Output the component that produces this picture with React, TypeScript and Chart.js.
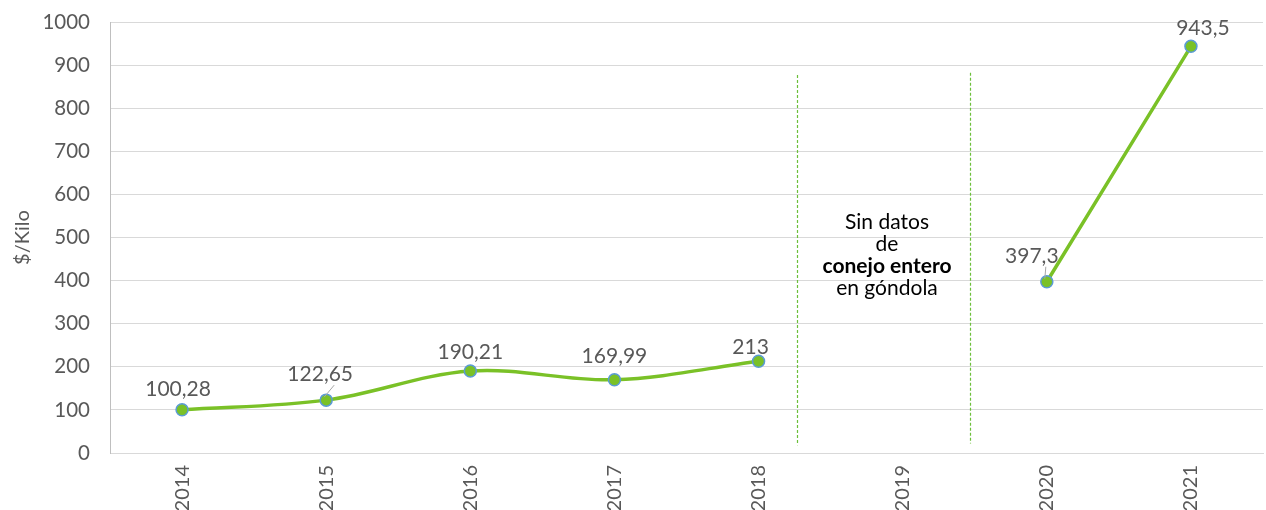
import React, { useEffect, useRef } from "react";
import { Chart, registerables } from "chart.js";

Chart.register(...registerables);

const categories = ["2014", "2015", "2016", "2017", "2018", "2019", "2020", "2021"];
const prices: (number | null)[] = [100.28, 122.65, 190.21, 169.99, 213, null, 397.3, 943.5];
const valueLabels = ["100,28", "122,65", "190,21", "169,99", "213", "", "397,3", "943,5"];
const yTicks = [0, 100, 200, 300, 400, 500, 600, 700, 800, 900, 1000];
const noteLines = ["Sin datos", "de", "conejo entero", "en góndola"];
const noteBold = [false, false, true, false];

const FONT = "Lato, 'Open Sans', sans-serif";
const GREY = "#595959";

// label offsets relative to each point (px)
const labelOffsets: [number, number][] = [
  [-4, -21], [-6, -26], [0, -19], [0, -23], [-8, -14], [0, 0], [-15, -26], [12, -18],
];
const leaderLines = [1, 6];

const overlayPlugin = {
  id: "overlay",
  afterDatasetsDraw(chart: any) {
    const ctx = chart.ctx;
    const meta = chart.getDatasetMeta(0);
    const x = chart.scales.x;
    const y = chart.scales.y;
    const step = x.getPixelForValue(1) - x.getPixelForValue(0);
    ctx.save();
    // dashed separators
    ctx.strokeStyle = "#6CBF3A";
    ctx.lineWidth = 1.2;
    ctx.setLineDash([3, 2]);
    const lx1 = Math.round(x.getPixelForValue(4) + 0.27 * step) + 0.5;
    const lx2 = Math.round(x.getPixelForValue(5) + 0.47 * step) + 0.5;
    ctx.beginPath();
    ctx.moveTo(lx1, y.getPixelForValue(877));
    ctx.lineTo(lx1, y.getPixelForValue(18));
    ctx.moveTo(lx2, y.getPixelForValue(882));
    ctx.lineTo(lx2, y.getPixelForValue(22));
    ctx.stroke();
    ctx.setLineDash([]);
    // note
    const cx = (lx1 + lx2) / 2 + 3;
    ctx.fillStyle = "#000";
    ctx.textAlign = "center";
    ctx.textBaseline = "middle";
    noteLines.forEach((t, i) => {
      ctx.font = `${noteBold[i] ? "bold " : ""}21px ${FONT}`;
      ctx.fillText(t, cx, 222 + i * 22);
    });
    // leader lines
    ctx.strokeStyle = "#A6A6A6";
    ctx.lineWidth = 1;
    leaderLines.forEach((i) => {
      const p = meta.data[i];
      const [dx, dy] = labelOffsets[i];
      ctx.beginPath();
      ctx.moveTo(p.x + dx + 14, p.y + dy + 11);
      ctx.lineTo(p.x - 2, p.y - 3);
      ctx.stroke();
    });
    // value labels
    ctx.fillStyle = GREY;
    ctx.font = `21px ${FONT}`;
    valueLabels.forEach((t, i) => {
      if (!t) return;
      const p = meta.data[i];
      const [dx, dy] = labelOffsets[i];
      ctx.fillText(t, p.x + dx, p.y + dy);
    });
    ctx.restore();
  },
};

export default function App() {
  const ref = useRef<HTMLCanvasElement>(null);
  useEffect(() => {
    document.body.style.margin = "0";
    const chart = new Chart(ref.current!, {
      type: "line",
      data: {
        labels: categories,
        datasets: [
          {
            data: prices,
            borderColor: "#7AC127",
            borderWidth: 3.5,
            tension: 0.35,
            spanGaps: false,
            pointRadius: 6,
            pointBackgroundColor: "#7AC127",
            pointBorderColor: "#5B9BD5",
            pointBorderWidth: 1.5,
          },
        ],
      },
      options: {
        animation: false,
        responsive: false,
        layout: { autoPadding: false, padding: { top: 22, right: 3, left: 11, bottom: 0 } },
        plugins: { legend: { display: false }, tooltip: { enabled: false } },
        scales: {
          x: {
            offset: true,
            grid: { display: false, drawTicks: false },
            border: { display: true, color: "#D9D9D9", width: 1 },
            ticks: {
              color: GREY,
              font: { family: FONT, size: 20 },
              maxRotation: 90,
              minRotation: 90,
              padding: 12,
            },
            afterFit: (s: any) => {
              s.height = 57;
              s.paddingLeft = 0;
              s.paddingRight = 0;
            },
          },
          y: {
            min: 0,
            max: 1000,
            afterBuildTicks: (s: any) => {
              s.ticks = yTicks.map((v) => ({ value: v }));
            },
            grid: { color: "#D9D9D9", drawTicks: false, lineWidth: 1 },
            border: { display: true, color: "#BFBFBF" },
            ticks: {
              color: GREY,
              font: { family: FONT, size: 20.5 },
              padding: 20,
              callback: (v: any) => String(v),
            },
            title: {
              display: true,
              text: "$/Kilo",
              color: GREY,
              font: { family: FONT, size: 20 },
              padding: 0,
            },
            afterFit: (s: any) => {
              s.width = 99;
              s.paddingTop = 0;
              s.paddingBottom = 0;
            },
          },
        },
      },
      plugins: [overlayPlugin],
    });
    return () => chart.destroy();
  }, []);
  return (
    <div style={{ width: 1266, height: 510 }}>
      <canvas ref={ref} width={1266} height={510} style={{ display: "block" }} />
    </div>
  );
}
